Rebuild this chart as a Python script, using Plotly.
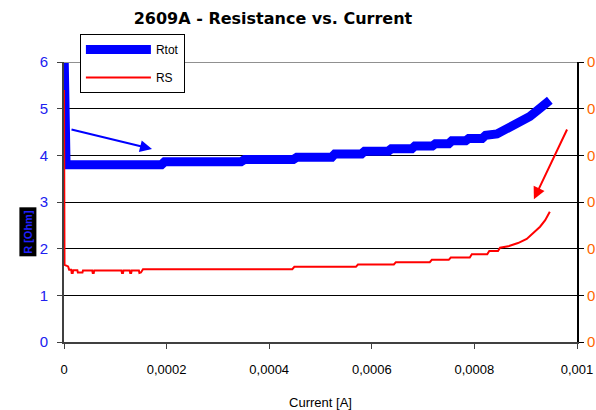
import plotly.graph_objects as go

# Data
rtot_current = [0, 0, 0.000004, 0.000190, 0.000196, 0.000345, 0.000352, 0.000447, 0.000454,
                0.000522, 0.000528, 0.000580, 0.000586, 0.000632, 0.000638, 0.000678, 0.000684,
                0.000718, 0.000724, 0.000750, 0.000756, 0.000783, 0.000789, 0.000815, 0.000822,
                0.000844, 0.000858, 0.000870, 0.000889, 0.000908, 0.000928, 0.000947]
rtot_values = [6.3, 3.88, 3.80, 3.80, 3.86, 3.86, 3.91, 3.91, 3.96, 3.96, 4.03, 4.03, 4.09, 4.09,
               4.14, 4.14, 4.20, 4.20, 4.25, 4.25, 4.31, 4.31, 4.36, 4.36, 4.43, 4.46, 4.53, 4.61,
               4.72, 4.83, 5.01, 5.18]

rs_current = [0, 0.000001, 0.000008, 0.000010, 0.000014, 0.000015, 0.000017, 0.000018, 0.000026,
              0.000027, 0.000036, 0.000037, 0.000055, 0.000056, 0.000058, 0.000059, 0.000112,
              0.000113, 0.000115, 0.000116, 0.000128, 0.000129, 0.000131, 0.000132, 0.000146,
              0.000147, 0.000150, 0.000154, 0.000445, 0.000449, 0.000569, 0.000573, 0.000643,
              0.000647, 0.000713, 0.000717, 0.000750, 0.000754, 0.000791, 0.000795, 0.000825,
              0.000829, 0.000846, 0.000850, 0.000866, 0.000885, 0.000902, 0.000914, 0.000928,
              0.000938, 0.000947]
rs_values = [5.4, 1.65, 1.62, 1.55, 1.55, 1.48, 1.48, 1.54, 1.54, 1.49, 1.49, 1.53, 1.53, 1.48,
             1.48, 1.53, 1.53, 1.48, 1.48, 1.53, 1.53, 1.48, 1.48, 1.53, 1.53, 1.48, 1.49, 1.56,
             1.56, 1.61, 1.61, 1.66, 1.66, 1.71, 1.71, 1.76, 1.76, 1.81, 1.81, 1.88, 1.88, 1.95,
             1.95, 2.02, 2.05, 2.12, 2.21, 2.33, 2.47, 2.61, 2.79]

x_tickvals = [0, 0.0002, 0.0004, 0.0006, 0.0008, 0.001]
x_ticktext = ["0", "0,0002", "0,0004", "0,0006", "0,0008", "0,001"]
y_tickvals = [0, 1, 2, 3, 4, 5, 6]
y_ticktext = ["0", "1", "2", "3", "4", "5", "6"]
y2_ticktext = ["0", "0,01", "0,02", "0,03", "0,04", "0,05", "0,06"]

FONT = "Liberation Sans, Arial, sans-serif"

fig = go.Figure()
fig.add_trace(go.Scatter(x=rtot_current, y=rtot_values, mode="lines", name="Rtot",
                         legendgroup="a", line=dict(color="#0000FF", width=9)))
fig.add_trace(go.Scatter(x=rs_current, y=rs_values, mode="lines", name="RS",
                         legendgroup="b", line=dict(color="#FF0000", width=2)))
# invisible trace to activate the right axis
fig.add_trace(go.Scatter(x=[0], y=[0], yaxis="y2", mode="markers",
                         marker=dict(opacity=0), showlegend=False, hoverinfo="skip"))

fig.update_layout(
    width=596, height=410,
    margin=dict(l=64, r=19, t=62, b=68),
    paper_bgcolor="white", plot_bgcolor="white",
    font=dict(family=FONT, size=12, color="black"),
    title=dict(text="<b>2609A - Resistance vs. Current</b>", x=0.458, xanchor="center",
               y=0.955, yanchor="middle",
               font=dict(family="DejaVu Sans, sans-serif", size=16, color="black")),
    xaxis=dict(range=[0, 0.001], tickvals=x_tickvals, ticktext=x_ticktext,
               showgrid=False, zeroline=False, showline=True, linecolor="#404040", linewidth=2,
               ticks="outside", ticklen=5, tickcolor="#404040", ticklabelstandoff=9,
               tickfont=dict(size=13, color="black"), automargin=False,
               title=dict(text="Current [A]", font=dict(size=13, color="black"), standoff=27)),
    yaxis=dict(range=[0, 6], tickvals=y_tickvals, ticktext=y_ticktext,
               showgrid=True, gridcolor="black", gridwidth=1, zeroline=False,
               showline=True, linecolor="#404040", linewidth=2,
               ticks="outside", ticklen=5, tickcolor="#404040", ticklabelstandoff=6,
               tickfont=dict(size=15, color="#2020F0"), automargin=False),
    yaxis2=dict(range=[0, 6], overlaying="y", side="right", tickvals=y_tickvals,
                ticktext=y2_ticktext, showgrid=False, zeroline=False,
                showline=True, linecolor="black", linewidth=2,
                ticks="outside", ticklen=5, tickcolor="black", automargin=False,
                tickfont=dict(size=15, color="#FF6600")),
    legend=dict(x=0.031, y=1.1, xanchor="left", yanchor="top",
                bgcolor="white", bordercolor="black", borderwidth=1,
                font=dict(size=12, color="black"), itemwidth=65,
                tracegroupgap=9),
    showlegend=True,
)

# gray top border at y=6
fig.add_shape(type="line", xref="paper", yref="y", x0=0, x1=1, y0=6, y1=6,
              line=dict(color="#909090", width=2))

# arrows
fig.add_annotation(x=0.0001715, y=4.135, ax=0.0000117, ay=4.56, xref="x", yref="y",
                   axref="x", ayref="y", text="", showarrow=True, arrowhead=2,
                   arrowsize=1.2, arrowwidth=2, arrowcolor="#0000FF")
fig.add_annotation(x=0.000916, y=3.06, ax=0.000982, ay=4.585, xref="x", yref="y",
                   axref="x", ayref="y", text="", showarrow=True, arrowhead=2,
                   arrowsize=1.2, arrowwidth=2, arrowcolor="#FF0000")

# y-axis title (rendered as a dark box in the reference)
fig.add_annotation(x=-0.088, y=0.393, xref="paper", yref="paper", text="<b>R [Ohm]</b>",
                   textangle=-90, showarrow=False, bgcolor="black", borderpad=2,
                   font=dict(size=11, color="#2020FF"))

fig.write_html("out.html")
